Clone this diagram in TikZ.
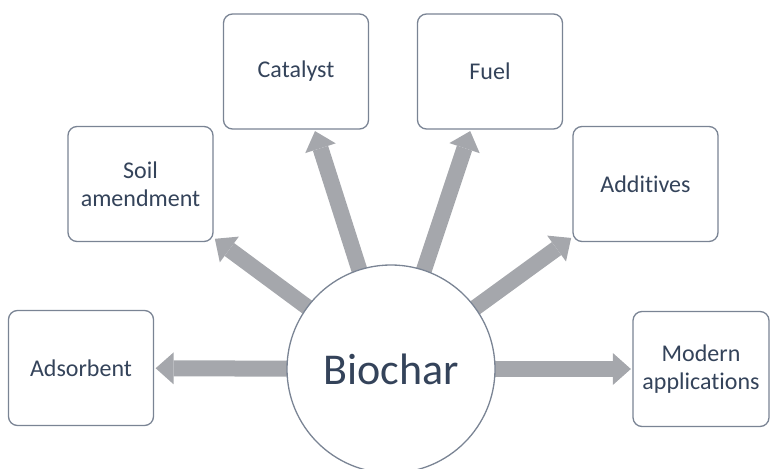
\documentclass[tikz,border=0pt]{standalone}
\usepackage{fontspec}
\setmainfont[Ligatures={NoCommon}]{Carlito}
\usetikzlibrary{arrows.meta,backgrounds}
\definecolor{txt}{HTML}{34435A}
\definecolor{bord}{HTML}{7A8494}
\definecolor{arr}{HTML}{A5A7AC}
\begin{document}
\begin{tikzpicture}[x=1pt,y=-1pt,
  box/.style={draw=bord,line width=1.3pt,rounded corners=9pt,fill=white,
    minimum width=145pt,minimum height=115pt,text=txt,
    font=\fontsize{24}{28}\selectfont,align=center,inner sep=0pt},
  hub/.style={circle,draw=bord,line width=1.3pt,fill=white,minimum size=208pt,
    text=txt,font=\fontsize{44}{50}\selectfont,inner sep=0pt},
  bigarrow/.style={draw=arr,line width=16pt,
    -{Triangle[width=32pt,length=18pt,line width=0pt]},shorten >=1.5pt}]
\useasboundingbox (0,0) rectangle (770,468);
\node[hub] (bio) at (391,369) {Biochar};
\node[box] (ads) at (81,368) {Adsorbent};
\node[box,minimum width=136pt] (mod) at (701,369) {Modern\\applications};
\node[box] (soil) at (140.5,184) {Soil\\amendment};
\node[box] (add) at (645.5,184) {Additives};
\node[box] (cat) at (296,71.5) {Catalyst};
\node[box] (fuel) at (490,71.5) {Fuel};
\begin{scope}[on background layer]
\draw[bigarrow] (bio.center) -- (ads);
\draw[bigarrow] (bio.center) -- (mod);
\draw[bigarrow] (bio.center) -- (soil);
\draw[bigarrow] (bio.center) -- (add);
\draw[bigarrow] (bio.center) -- (cat);
\draw[bigarrow] (bio.center) -- (fuel);
\end{scope}
\end{tikzpicture}
\end{document}
